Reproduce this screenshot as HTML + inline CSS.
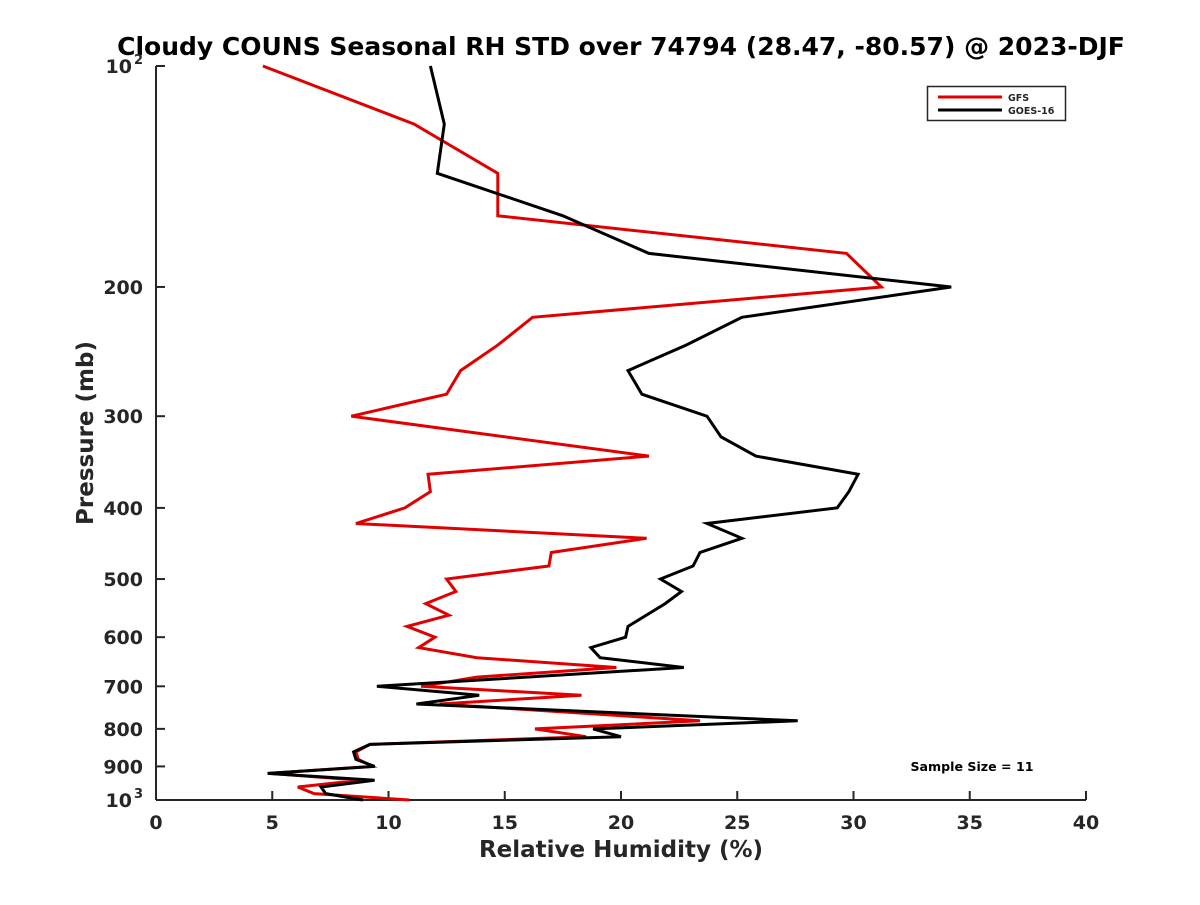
<!DOCTYPE html>
<html><head><meta charset="utf-8"><style>
body{margin:0;background:#fff;}
svg text{font-family:"DejaVu Sans","Liberation Sans",sans-serif;font-weight:bold;fill:#262626;}
</style></head><body>
<svg id="chart" width="1200" height="900" viewBox="0 0 1200 900">
<rect width="1200" height="900" fill="#fff"/>
<text x="621" y="55" font-size="25" text-anchor="middle" fill="#000" style="fill:#000">Cloudy COUNS Seasonal RH STD over 74794 (28.47, -80.57) @ 2023-DJF</text>
<g id="axes"></g>
<g id="series"></g>
<g>
<rect x="927.5" y="86.5" width="138" height="34" fill="#fff" stroke="#262626" stroke-width="1.5"/>
<line x1="938" y1="97" x2="1002" y2="97" stroke="#e00000" stroke-width="3"/>
<text x="1008" y="101" font-size="9.5">GFS</text>
<line x1="938" y1="110" x2="1002" y2="110" stroke="#000" stroke-width="3"/>
<text x="1008" y="114" font-size="9.5">GOES-16</text>
</g>
<text x="972" y="771" font-size="12.6" text-anchor="middle" fill="#000" style="fill:#000">Sample Size = 11</text>
<text x="621" y="857" font-size="23" text-anchor="middle">Relative Humidity (%)</text>
<text x="0" y="0" font-size="23" text-anchor="middle" transform="translate(93,433) rotate(-90)">Pressure (mb)</text>
</svg>
<script>
const redP = [100,120,140,160,180,200,220,240,260,280,300,340,360,380,400,420,440,460,480,500,520,540,560,580,600,620,640,660,680,700,720,740,780,800,820,840,860,880,900,920,940,960,980,1000];
const redV = [4.6,11.1,14.7,14.7,29.7,31.2,16.2,14.7,13.1,12.5,8.4,21.2,11.7,11.8,10.7,8.6,21.1,17.0,16.9,12.5,12.9,11.6,12.6,10.8,12.0,11.3,13.8,19.8,13.8,11.4,18.3,12.2,23.4,16.3,18.5,9.2,8.6,8.7,9.3,4.9,8.8,6.1,6.8,10.9];
const blackP = [100,120,140,160,180,200,220,240,260,280,300,320,340,360,380,400,420,440,460,480,500,520,540,580,600,620,640,660,700,720,740,780,800,820,840,860,880,900,920,940,960,980,1000];
const blackV = [11.8,12.4,12.1,17.5,21.2,34.2,25.2,22.8,20.3,20.9,23.7,24.3,25.8,30.2,29.8,29.3,23.7,25.2,23.4,23.1,21.7,22.6,21.9,20.3,20.2,18.7,19.1,22.7,9.5,13.9,11.2,27.6,18.8,20.0,9.2,8.5,8.6,9.4,4.8,9.4,7.1,7.3,8.9];
const xTicks = [0,5,10,15,20,25,30,35,40];
const yTicks = [100,200,300,400,500,600,700,800,900,1000];
const yTickLabels = ["10|2","200","300","400","500","600","700","800","900","10|3"];

const X0=156,X1=1086,Y0=66,Y1=800;
const xs=v=>X0+(v-0)/(40-0)*(X1-X0);
const ys=p=>Y0+(Math.log10(p)-2)/1*(Y1-Y0);
const NS='http://www.w3.org/2000/svg';
const axes=document.getElementById('axes');
const series=document.getElementById('series');
function mk(tag,attrs,parent){const e=document.createElementNS(NS,tag);for(const k in attrs)e.setAttribute(k,attrs[k]);parent.appendChild(e);return e;}
const xa=mk('line',{x1:X0,y1:Y1,x2:X1,y2:Y1,stroke:'#262626','stroke-width':2},axes);


const ya=mk('line',{x1:X0,y1:Y0,x2:X0,y2:Y1,stroke:'#262626','stroke-width':2},axes);


xTicks.forEach(t=>{
  const x=xs(t);
  const tk=mk('line',{x1:x,y1:Y1,x2:x,y2:Y1-9,stroke:'#262626','stroke-width':2},axes);
  
  
  const tx=mk('text',{x:x,y:Y1+29,'font-size':19,'text-anchor':'middle'},axes);
  tx.textContent=t;
  
  
});
yTicks.forEach((t,i)=>{
  const y=ys(t);
  const tk=mk('line',{x1:X0,y1:y,x2:X0+9,y2:y,stroke:'#262626','stroke-width':2},axes);
  
  
  const lab=yTickLabels[i];
  if(lab.indexOf('|')>=0){
    const parts=lab.split('|');
    const tx=mk('text',{x:X0-24,y:y+7,'font-size':19,'text-anchor':'end'},axes);
    tx.textContent=parts[0];
    
    
    const sp=mk('text',{x:X0-13,y:y-2,'font-size':13,'text-anchor':'end'},axes);
    sp.textContent=parts[1];
    
    
  } else {
    const tx=mk('text',{x:X0-13,y:y+7,'font-size':19,'text-anchor':'end'},axes);
    tx.textContent=lab;
    
    
  }
});
function line(P,V,color,name){
  const pts=P.map((p,i)=>xs(V[i]).toFixed(1)+','+ys(p).toFixed(1)).join(' ');
  const pl=mk('polyline',{points:pts,fill:'none',stroke:color,'stroke-width':3,'stroke-linejoin':'miter'},series);
  
  
}
line(redP,redV,'#e00000','gfs-line');
line(blackP,blackV,'#000','goes16-line');
</script>
</body></html>
